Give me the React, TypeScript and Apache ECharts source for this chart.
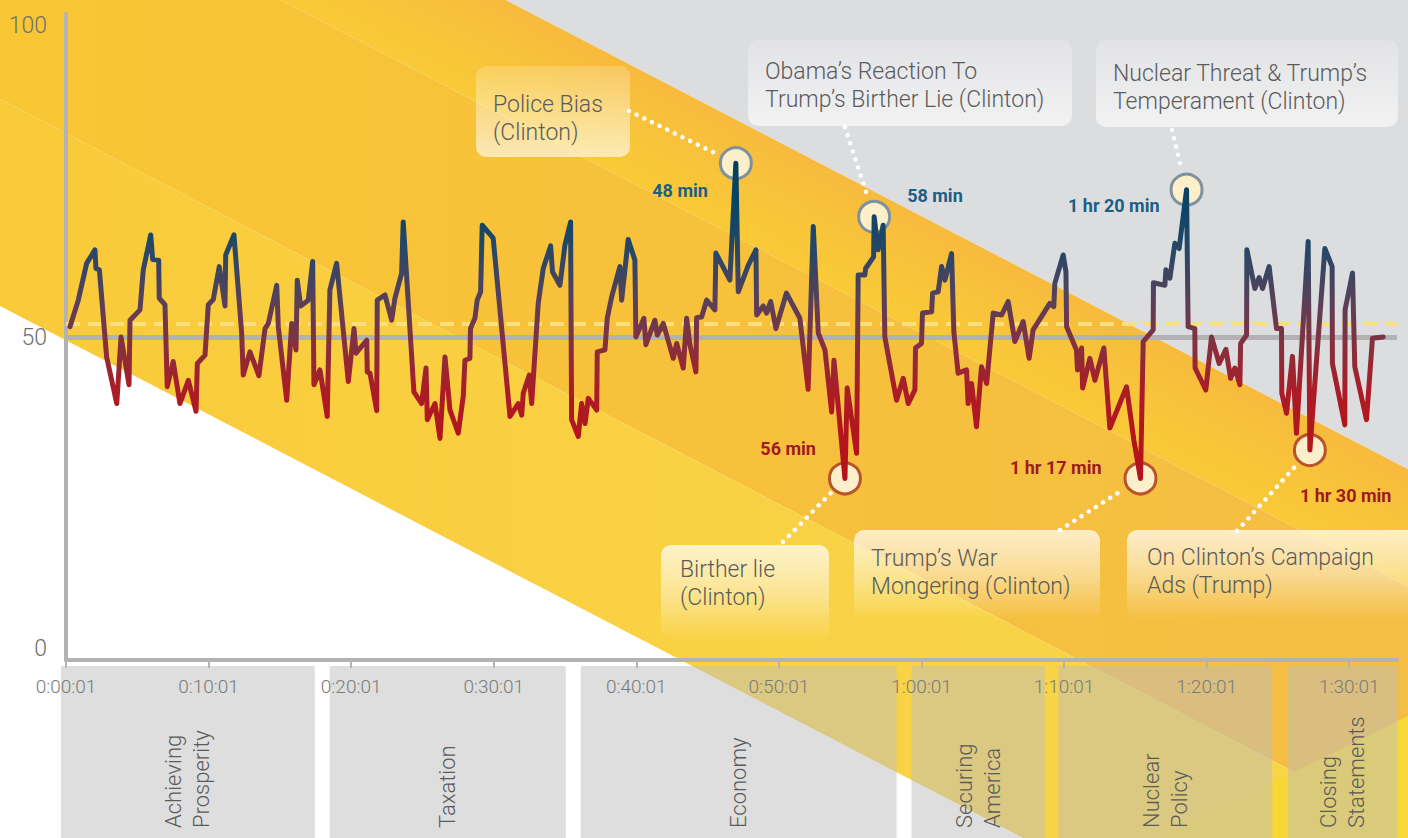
import React, { useEffect, useRef } from "react";
import * as echarts from "echarts";

// ---------------- DATA ----------------
const minutes = [
  0.28, 0.86, 1.45, 2.03, 2.1, 2.34, 2.85, 3.56, 3.86, 4.42, 4.49, 5.19, 5.42, 5.94, 6.08, 6.5, 6.54, 6.94, 7.1, 7.52,
  7.99, 8.58, 9.12, 9.21, 9.75, 9.98, 10.33, 10.75, 11.15, 11.2, 11.78, 12.32, 12.43, 12.9, 13.53, 13.96, 14.19, 14.78, 14.89, 15.48,
  15.83, 16.13, 16.22, 16.46, 16.88, 16.99, 17.3, 17.39, 17.81, 18.32, 18.51, 18.98, 19.8, 20.2, 20.34, 21.09, 21.13, 21.32, 21.79, 21.83,
  22.37, 22.84, 23.07, 23.54, 23.65, 24.4, 24.94, 25.25, 25.34, 25.88, 26.23, 26.58, 26.93, 27.51, 27.86, 27.98, 28.33, 28.37, 28.68, 28.84,
  29.08, 29.19, 29.96, 31.14, 31.72, 31.96, 32.07, 32.49, 32.66, 33.12, 33.47, 33.99, 34.12, 34.64, 34.99, 35.39, 35.46, 35.93, 36.16, 36.4,
  36.63, 37.22, 37.26, 37.8, 37.96, 38.27, 38.85, 38.97, 39.43, 39.9, 39.97, 40.53, 40.67, 41.3, 41.47, 41.89, 42.59, 42.83, 43.29, 43.53,
  43.76, 44.18, 44.23, 44.58, 44.93, 45.51, 45.58, 46.56, 46.98, 47.15, 47.85, 48.39, 48.44, 48.9, 49.14, 49.42, 49.79, 50.53, 51.47, 52.05,
  52.41, 52.76, 53.23, 53.7, 53.86, 54.63, 54.79, 55.45, 55.56, 56.03, 56.08, 56.64, 56.68, 56.96, 57.31, 57.43, 58.25, 58.72, 59.07, 59.54,
  59.58, 60.0, 60.07, 60.71, 60.78, 61.17, 61.41, 61.64, 62.11, 62.27, 62.57, 63.16, 63.27, 63.51, 63.86, 64.21, 64.57, 65.03, 65.62, 66.08,
  66.55, 67.13, 67.55, 67.83, 69.0, 69.28, 69.35, 69.94, 70.13, 70.18, 70.87, 70.94, 71.23, 71.3, 71.81, 72.16, 72.79, 73.21, 74.38, 74.89,
  75.36, 75.55, 76.25, 76.27, 77.07, 77.14, 77.42, 77.77, 78.07, 78.59, 78.7, 79.17, 79.19, 79.94, 80.34, 80.88, 81.35, 81.68, 81.98, 82.33,
  82.38, 82.8, 82.82, 83.38, 83.68, 83.92, 84.38, 84.9, 85.25, 85.27, 85.6, 86.02, 86.3, 87.12, 87.24, 88.29, 88.8, 88.82, 89.69, 89.71,
  90.23, 90.39, 91.21, 91.63, 92.38,
];
const values = [
  51.6, 55.7, 61.4, 63.5, 60.6, 60.4, 46.9, 39.7, 50.0, 42.6, 52.6, 54.2, 60.4, 65.8, 62.0, 61.9, 56.0, 55.0, 42.3, 46.2,
  39.7, 43.3, 38.5, 45.9, 47.2, 55.0, 55.8, 60.9, 54.8, 62.7, 65.8, 50.6, 44.1, 47.7, 44.0, 51.3, 52.1, 58.0, 51.6, 40.2,
  52.1, 48.0, 58.8, 54.8, 55.5, 55.7, 61.7, 42.6, 44.9, 37.7, 57.3, 61.4, 43.1, 51.3, 47.5, 49.5, 44.6, 44.4, 38.6, 55.7,
  56.5, 52.6, 56.0, 59.9, 67.8, 41.5, 39.7, 45.2, 37.2, 39.7, 34.3, 46.9, 38.7, 35.1, 40.8, 46.4, 46.7, 51.3, 52.9, 55.7,
  57.0, 67.3, 65.3, 37.7, 39.7, 37.9, 41.3, 44.1, 39.7, 55.2, 60.6, 64.1, 60.1, 58.0, 64.2, 67.8, 37.2, 34.6, 39.7, 36.6,
  40.5, 38.7, 47.7, 48.0, 52.9, 56.2, 60.9, 55.7, 65.1, 61.9, 50.0, 52.9, 48.8, 52.6, 50.3, 52.1, 46.7, 49.0, 45.2, 52.9,
  48.8, 44.6, 53.0, 53.1, 55.7, 54.2, 63.0, 58.8, 76.9, 57.0, 61.1, 63.5, 53.4, 54.8, 53.7, 55.5, 51.3, 56.8, 52.9, 41.9,
  67.1, 50.6, 48.0, 38.4, 46.4, 28.1, 42.1, 32.0, 59.6, 59.6, 60.6, 62.4, 68.6, 63.5, 67.3, 50.0, 40.2, 43.6, 39.7, 41.8,
  48.3, 49.0, 53.7, 53.9, 56.8, 57.0, 60.9, 58.8, 62.9, 50.8, 44.4, 44.9, 39.7, 42.8, 36.1, 45.4, 42.8, 53.7, 53.4, 55.5,
  49.3, 52.4, 46.7, 51.1, 55.2, 54.7, 58.3, 62.7, 60.1, 51.6, 48.0, 44.9, 48.3, 42.1, 46.7, 43.3, 48.3, 35.9, 42.3, 34.1,
  28.1, 49.3, 51.1, 58.4, 58.0, 60.4, 59.1, 64.5, 63.7, 72.8, 51.6, 51.3, 45.2, 41.8, 50.0, 45.9, 48.1, 43.6, 45.2, 42.6,
  49.0, 50.3, 63.5, 57.5, 59.2, 57.5, 60.9, 51.3, 51.3, 41.3, 38.2, 47.0, 35.1, 64.8, 32.5, 63.7, 60.9, 45.9, 36.4, 54.2,
  59.9, 45.4, 37.2, 49.8, 50.0,
];

const xTickLabels = ["0:00:01", "0:10:01", "0:20:01", "0:30:01", "0:40:01", "0:50:01", "1:00:01", "1:10:01", "1:20:01", "1:30:01"];
const neutralValue = 50;
const dashedValue = 52;

const topicNames = ["Achieving\nProsperity", "Taxation", "Economy", "Securing\nAmerica", "Nuclear\nPolicy", "Closing\nStatements"];
const topicStart = [-0.35, 18.5, 36.1, 59.3, 69.6, 85.7];
const topicEnd = [17.45, 35.05, 58.25, 68.65, 84.6, 93.35];

const momentMinutes = [46.98, 56.68, 78.59, 54.63, 75.36, 87.24];
const momentValues = [76.9, 68.6, 72.8, 28.1, 28.1, 32.5];
const momentTimes = ["48 min", "58 min", "1 hr 20 min", "56 min", "1 hr 17 min", "1 hr 30 min"];
const momentTopics = [
  "Police Bias\n(Clinton)",
  "Obama’s Reaction To\nTrump’s Birther Lie (Clinton)",
  "Nuclear Threat & Trump’s\nTemperament (Clinton)",
  "Birther lie\n(Clinton)",
  "Trump’s War\nMongering (Clinton)",
  "On Clinton’s Campaign\nAds (Trump)",
];
const momentHigh = [true, true, true, false, false, false];

// ---------------- LAYOUT ----------------
const W = 1408;
const H = 838;
const FONT = "Roboto, 'Liberation Sans', Arial, sans-serif";
const calloutRects: [number, number, number, number, boolean][] = [
  [476, 66, 154, 91, true],
  [748, 40, 324, 86, true],
  [1096, 40, 302, 87, true],
  [661, 545, 168, 95, false],
  [854, 530, 246, 90, false],
  [1127, 530, 295, 90, false],
];
const calloutTextPos = [
  [493, 90],
  [765, 57],
  [1113, 59],
  [680, 555],
  [871, 544],
  [1147, 543],
];
const connectorStart = [
  [629, 111],
  [845, 127],
  [1172, 130],
  [783, 542],
  [1060, 530],
  [1237, 531],
];
const timeLabelOffset: [number, number, string][] = [
  [-28, 27, "right"],
  [33, -21, "left"],
  [-27, 16, "right"],
  [-29, -30, "right"],
  [-39, -11, "right"],
  [-10, 45, "left"],
];

const SLOPE = 0.52;
const band = (c1: number, c2: number) => [
  [-20, -20 * SLOPE + c1],
  [W + 20, (W + 20) * SLOPE + c1],
  [W + 20, (W + 20) * SLOPE + c2],
  [-20, -20 * SLOPE + c2],
];
const normalGrad = (c1: number, c2: number, stops: [number, string][]) => {
  const x1 = 700;
  const y1 = x1 * SLOPE + c1;
  const len = Math.sqrt(1 + SLOPE * SLOPE);
  const d = (c2 - c1) / len;
  const nx = -SLOPE / len;
  const ny = 1 / len;
  return {
    type: "linear",
    x: x1,
    y: y1,
    x2: x1 + d * nx,
    y2: y1 + d * ny,
    global: true,
    colorStops: stops.map(([offset, color]) => ({ offset, color })),
  };
};

export default function App() {
  const ref = useRef<HTMLDivElement | null>(null);

  useEffect(() => {
    if (!ref.current) return;
    const chart = echarts.init(ref.current, null, { renderer: "svg" });
    const lineData = minutes.map((m, i) => [m, values[i]]);
    const momentData = momentMinutes.map((m, i) => ({
      value: [m, momentValues[i]],
      itemStyle: { borderColor: momentHigh[i] ? "#7f919f" : "#b8532c" },
    }));

    chart.setOption({
      animation: false,
      backgroundColor: "#ffffff",
      grid: { left: 66, right: 11, top: 14, bottom: 178 },
      xAxis: {
        type: "value",
        min: 0,
        max: 93.35,
        interval: 10,
        z: 3,
        axisLine: { show: true, lineStyle: { color: "#b3b3b5", width: 4 } },
        axisTick: { show: true, length: 8, lineStyle: { color: "#b3b3b5", width: 2 } },
        axisLabel: {
          formatter: (v: number) => xTickLabels[Math.round(v / 10)] ?? "",
          margin: 17,
          color: "#7a7a7a",
          fontSize: 19,
          fontFamily: FONT,
          fontWeight: 300,
          showMaxLabel: false,
        },
        splitLine: { show: false },
      },
      yAxis: {
        type: "value",
        min: 0,
        max: 100,
        interval: 50,
        z: 3,
        axisLine: { show: true, lineStyle: { color: "#b3b3b5", width: 4 } },
        axisTick: { show: false },
        axisLabel: {
          margin: 19,
          color: "#6f6f6f",
          fontSize: 23,
          fontFamily: FONT,
          fontWeight: 300,
          verticalAlignMinLabel: "bottom",
          verticalAlignMaxLabel: "top",
        },
        splitLine: { show: false },
      },
      visualMap: {
        show: false,
        type: "continuous",
        seriesIndex: 0,
        dimension: 1,
        min: 28,
        max: 77,
        inRange: {
          color: ["#b5121b", "#b3151d", "#aa1d27", "#84303f", "#56415a", "#2a4766", "#0b4567", "#03405e"],
        },
      },
      series: [
        {
          type: "line",
          data: lineData,
          showSymbol: false,
          symbol: "none",
          z: 10,
          silent: true,
          lineStyle: { width: 5, join: "round", cap: "round" },
        },
        {
          type: "scatter",
          data: momentData,
          symbolSize: 31,
          z: 6,
          silent: true,
          itemStyle: { color: "#fcefc9", borderWidth: 3, opacity: 1 },
          markLine: {
            silent: true,
            symbol: ["none", "none"],
            label: { show: false },
            data: [
              { yAxis: neutralValue, lineStyle: { color: "#b2b2b4", width: 5, type: "solid" } },
              { yAxis: dashedValue, lineStyle: { color: "#f9e07f", width: 4, type: [14, 8] } },
            ],
          },
        },
      ],
    });

    const px = (m: number, v: number) => chart.convertToPixel({ gridIndex: 0 }, [m, v]) as number[];
    const elements: any[] = [];

    // background: grey corner and diagonal yellow bands
    elements.push({ type: "polygon", z: 0, silent: true, shape: { points: band(-1600, -263) }, style: { fill: "#dcdddf" } });
    elements.push({
      type: "polygon",
      z: 0,
      silent: true,
      shape: { points: band(-263, -146) },
      style: { fill: normalGrad(-263, -146, [[0, "#f7ba3d"], [0.55, "#f8c43a"], [1, "#f9ca37"]]) },
    });
    elements.push({
      type: "polygon",
      z: 0,
      silent: true,
      shape: { points: band(-146, 99) },
      style: {
        fill: {
          type: "linear", x: 0, y: 0, x2: W, y2: 0, global: true,
          colorStops: [{ offset: 0, color: "#f9c634" }, { offset: 0.5, color: "#f7c13b" }, { offset: 1, color: "#f4be44" }],
        },
      },
    });
    elements.push({
      type: "polygon",
      z: 0,
      silent: true,
      shape: { points: band(99, 306) },
      style: {
        fill: {
          type: "linear", x: 0, y: 0, x2: W, y2: 0, global: true,
          colorStops: [{ offset: 0, color: "#f9ca3a" }, { offset: 0.5, color: "#f9d244" }, { offset: 1, color: "#f8d548" }],
        },
      },
    });
    elements.push({
      type: "polygon",
      z: 0,
      silent: true,
      shape: { points: [[1160, H], [W, 716], [W, H]] },
      style: { fill: "#f7d836" },
    });

    // topic boxes along the bottom
    topicNames.forEach((name, i) => {
      const x0 = px(topicStart[i], 0)[0];
      const x1 = px(topicEnd[i], 0)[0];
      elements.push({
        type: "rect",
        z: 1,
        silent: true,
        shape: { x: x0, y: 666, width: x1 - x0, height: H - 666 },
        style: { fill: "rgba(190,190,190,0.5)" },
      });
      elements.push({
        type: "text",
        z: 2,
        silent: true,
        x: (x0 + x1) / 2,
        y: 828,
        rotation: Math.PI / 2,
        style: {
          text: name,
          fill: "#5a5a5a",
          fontSize: 22,
          fontFamily: FONT,
          fontWeight: 300,
          lineHeight: 28,
          align: "left",
          textAlign: "left",
          verticalAlign: "middle",
          textVerticalAlign: "middle",
        },
      });
    });

    // annotations
    momentMinutes.forEach((m, i) => {
      const [cx, cy] = px(m, momentValues[i]);
      const [sx, sy] = connectorStart[i];
      const dx = cx - sx;
      const dy = cy - sy;
      const dl = Math.sqrt(dx * dx + dy * dy);
      const ex = cx - (dx / dl) * 19;
      const ey = cy - (dy / dl) * 19;
      elements.push({
        type: "line",
        z: 5,
        silent: true,
        shape: { x1: sx, y1: sy, x2: ex, y2: ey },
        style: { stroke: "#ffffff", lineWidth: 4.5, lineDash: [0.01, 8.5], lineCap: "round" },
      });
      const [rx, ry, rw, rh, up] = calloutRects[i];
      elements.push({
        type: "rect",
        z: 12,
        silent: true,
        shape: { x: rx, y: ry, width: rw, height: rh, r: 10 },
        style: {
          fill: {
            type: "linear", x: 0, y: 0, x2: 0, y2: 1,
            colorStops: up
              ? [{ offset: 0, color: "rgba(255,255,255,0.18)" }, { offset: 1, color: "rgba(255,255,255,0.62)" }]
              : [{ offset: 0, color: "rgba(255,255,255,0.72)" }, { offset: 0.5, color: "rgba(255,255,255,0.42)" }, { offset: 1, color: "rgba(255,255,255,0)" }],
          },
        },
      });
      const [tx, ty] = calloutTextPos[i];
      elements.push({
        type: "text",
        z: 13,
        silent: true,
        x: tx,
        y: ty,
        style: {
          text: momentTopics[i],
          fill: "#5b5b5b",
          fontSize: 23,
          fontFamily: FONT,
          fontWeight: 300,
          lineHeight: 28,
          align: "left",
          textAlign: "left",
          verticalAlign: "top",
          textVerticalAlign: "top",
        },
      });
      const [ox, oy, al] = timeLabelOffset[i];
      elements.push({
        type: "text",
        z: 13,
        silent: true,
        x: cx + ox,
        y: cy + oy,
        style: {
          text: momentTimes[i],
          fill: momentHigh[i] ? "#1d5e86" : "#9e1b20",
          fontSize: 18,
          fontFamily: FONT,
          fontWeight: "bold",
          align: al,
          textAlign: al,
          verticalAlign: "middle",
          textVerticalAlign: "middle",
        },
      });
    });

    chart.setOption({ graphic: elements });

    return () => {
      chart.dispose();
    };
  }, []);

  return (
    <div
      ref={ref}
      style={{ position: "absolute", left: 0, top: 0, width: W, height: H }}
    />
  );
}
